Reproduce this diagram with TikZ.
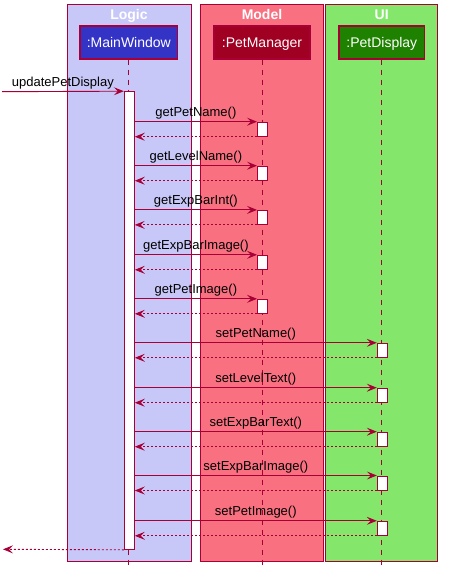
\documentclass[tikz,border=0pt]{standalone}
\usepackage{fontspec}
\setmainfont{Liberation Sans}
\usetikzlibrary{arrows.meta}
\definecolor{umlred}{HTML}{A80036}
\definecolor{logicbg}{HTML}{C8C8F8}
\definecolor{modelbg}{HTML}{F97181}
\definecolor{uibg}{HTML}{84E76B}
\definecolor{mwfill}{HTML}{3333C6}
\definecolor{pmfill}{HTML}{A00022}
\definecolor{pdfill}{HTML}{1E8200}

\begin{document}
\begin{tikzpicture}[x=1pt,y=-1pt,
  grp/.style={draw=umlred,line width=1pt},
  grptitle/.style={anchor=base,text=white,font=\bfseries\fontsize{14}{16}\selectfont},
  part/.style={rectangle,draw=umlred,line width=1.5pt,minimum height=33pt,inner sep=0pt,
    text height=10pt,text depth=0pt,text=white,font=\fontsize{14}{16}\selectfont},
  life/.style={draw=umlred,line width=0.8pt,dash pattern=on 5pt off 5pt},
  actbar/.style={rectangle,draw=umlred,fill=white,line width=1pt,minimum width=10pt,inner sep=0pt},
  call/.style={draw=umlred,line width=0.9pt,-{Stealth[length=10pt,width=8pt,inset=4pt]}},
  ret/.style={draw=umlred,line width=0.9pt,dash pattern=on 2pt off 2pt,-{Stealth[length=10pt,width=8pt,inset=4pt]}},
  msg/.style={above,inner sep=2pt,text depth=3pt,font=\fontsize{13}{15}\selectfont}]
\useasboundingbox (0,0) rectangle (448,578);
% groups
\path[grp,fill=logicbg] (67,4.5) rectangle (191,561.5);
\path[grp,fill=modelbg] (200.5,4.5) rectangle (323.5,561.5);
\path[grp,fill=uibg] (325.5,4.5) rectangle (437.5,561.5);
\node (tlogic) [grptitle] at (129,20) {Logic};
\node (tmodel) [grptitle] at (262,20) {Model};
\node (tui) [grptitle] at (381.7,20) {UI};
% participants
\node (mw) [part,fill=mwfill,minimum width=97.5pt] at (128.8,42.3) {:MainWindow};
\node (pm) [part,fill=pmfill,minimum width=96pt] at (262,42.3) {:PetManager};
\node (pd) [part,fill=pdfill,minimum width=85.5pt] at (381.8,42.3) {:PetDisplay};
\coordinate (mwend) at (128.3,565);
\coordinate (pmend) at (262,565);
\coordinate (pdend) at (381.8,565);
\draw[life] (mw.south -| mwend) -- (mwend);
\draw[life] (pm.south -| pmend) -- (pmend);
\draw[life] (pd.south -| pdend) -- (pdend);
% activations
\node (mwact) [actbar,minimum height=457.6pt] at (129.3,320.5) {};
\node (pm1) [actbar,minimum height=14pt] at (262.5,129.2) {};
\node (pm2) [actbar,minimum height=14pt] at (262.5,173.2) {};
\node (pm3) [actbar,minimum height=14pt] at (262.5,217.4) {};
\node (pm4) [actbar,minimum height=14pt] at (262.5,262.3) {};
\node (pm5) [actbar,minimum height=14pt] at (262.5,306.3) {};
\node (pd1) [actbar,minimum height=14pt] at (382.3,350.3) {};
\node (pd2) [actbar,minimum height=14pt] at (382.3,395.2) {};
\node (pd3) [actbar,minimum height=14pt] at (382.3,439.2) {};
\node (pd4) [actbar,minimum height=14pt] at (382.3,483) {};
\node (pd5) [actbar,minimum height=14pt] at (382.3,528.3) {};
%
\coordinate (start) at (2,91.7);
\coordinate (stop) at (3,549.3);
\draw[call] (start) -- node[msg] {updatePetDisplay} (mwact.north west);
\draw[call] (mwact.east |- pm1.north west) -- node[msg] {getPetName()} (pm1.north west);
\draw[ret] (pm1.south west) -- (mwact.east |- pm1.south west);
\draw[call] (mwact.east |- pm2.north west) -- node[msg] {getLevelName()} (pm2.north west);
\draw[ret] (pm2.south west) -- (mwact.east |- pm2.south west);
\draw[call] (mwact.east |- pm3.north west) -- node[msg] {getExpBarInt()} (pm3.north west);
\draw[ret] (pm3.south west) -- (mwact.east |- pm3.south west);
\draw[call] (mwact.east |- pm4.north west) -- node[msg] {getExpBarImage()} (pm4.north west);
\draw[ret] (pm4.south west) -- (mwact.east |- pm4.south west);
\draw[call] (mwact.east |- pm5.north west) -- node[msg] {getPetImage()} (pm5.north west);
\draw[ret] (pm5.south west) -- (mwact.east |- pm5.south west);
\draw[call] (mwact.east |- pd1.north west) -- node[msg] {setPetName()} (pd1.north west);
\draw[ret] (pd1.south west) -- (mwact.east |- pd1.south west);
\draw[call] (mwact.east |- pd2.north west) -- node[msg] {setLevelText()} (pd2.north west);
\draw[ret] (pd2.south west) -- (mwact.east |- pd2.south west);
\draw[call] (mwact.east |- pd3.north west) -- node[msg] {setExpBarText()} (pd3.north west);
\draw[ret] (pd3.south west) -- (mwact.east |- pd3.south west);
\draw[call] (mwact.east |- pd4.north west) -- node[msg] {setExpBarImage()} (pd4.north west);
\draw[ret] (pd4.south west) -- (mwact.east |- pd4.south west);
\draw[call] (mwact.east |- pd5.north west) -- node[msg] {setPetImage()} (pd5.north west);
\draw[ret] (pd5.south west) -- (mwact.east |- pd5.south west);
\draw[ret] (mwact.south west) -- (stop);
\end{tikzpicture}
\end{document}
